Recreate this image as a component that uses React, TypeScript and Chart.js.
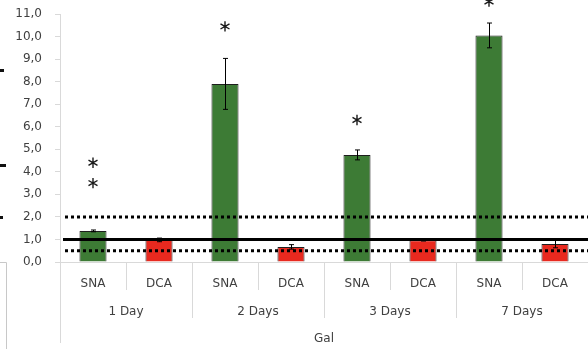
import { useEffect, useRef } from 'react';
import { Chart, registerables } from 'chart.js';

Chart.register(...registerables);

// ---- data ----
const categories = ['SNA', 'DCA', 'SNA', 'DCA', 'SNA', 'DCA', 'SNA', 'DCA'];
const groups = ['1 Day', '2 Days', '3 Days', '7 Days'];
const values = [1.38, 0.98, 7.9, 0.67, 4.75, 0.96, 10.05, 0.8];
const errors = [0.04, 0.08, 1.13, 0.1, 0.22, 0.03, 0.55, 0.17];
const barColors = ['#3d7b35', '#e8291f', '#3d7b35', '#e8291f', '#3d7b35', '#e8291f', '#3d7b35', '#e8291f'];
const yMin = 0;
const yMax = 11;
const yStep = 1;
const starIndex = [0, 0, 2, 4, 6];
const starValue = [4.4, 3.5, 10.45, 6.3, 11.55];
const solidLines = [1];
const dottedLines = [2, 0.5];
const axisTitle = 'Gal';

const GRAY = '#d9d9d9';
const TEXT = '#404040';

const overlayPlugin = {
  id: 'overlay',
  afterDatasetsDraw(chart: any) {
    const { ctx, chartArea, scales } = chart;
    const x = scales.x;
    const y = scales.y;
    ctx.save();
    // error bars
    ctx.strokeStyle = '#000';
    ctx.lineWidth = 1;
    ctx.setLineDash([]);
    values.forEach((v, i) => {
      const px = Math.round(x.getPixelForValue(i)) + 0.5;
      const t = y.getPixelForValue(v + errors[i]);
      const b = y.getPixelForValue(v - errors[i]);
      ctx.beginPath();
      ctx.moveTo(px, t);
      ctx.lineTo(px, b);
      ctx.moveTo(px - 2.5, t);
      ctx.lineTo(px + 2.5, t);
      ctx.moveTo(px - 2.5, b);
      ctx.lineTo(px + 2.5, b);
      ctx.stroke();
    });
    // reference lines
    ctx.strokeStyle = '#000';
    ctx.lineWidth = 3;
    solidLines.forEach((v) => {
      const py = y.getPixelForValue(v);
      ctx.setLineDash([]);
      ctx.beginPath();
      ctx.moveTo(chartArea.left + 3, py);
      ctx.lineTo(chartArea.right, py);
      ctx.stroke();
    });
    dottedLines.forEach((v) => {
      const py = y.getPixelForValue(v);
      ctx.setLineDash([3, 3]);
      ctx.beginPath();
      ctx.moveTo(chartArea.left + 5, py);
      ctx.lineTo(chartArea.right, py);
      ctx.stroke();
    });
    ctx.setLineDash([]);
    // asterisks
    ctx.strokeStyle = '#1a1a1a';
    ctx.lineWidth = 1.4;
    starIndex.forEach((idx, k) => {
      const px = x.getPixelForValue(idx);
      const py = y.getPixelForValue(starValue[k]);
      const r = 5.2;
      const dx = r * Math.cos(Math.PI / 6);
      const dy = r * Math.sin(Math.PI / 6);
      ctx.beginPath();
      ctx.moveTo(px, py - r);
      ctx.lineTo(px, py + r);
      ctx.moveTo(px - dx, py - dy);
      ctx.lineTo(px + dx, py + dy);
      ctx.moveTo(px - dx, py + dy);
      ctx.lineTo(px + dx, py - dy);
      ctx.stroke();
    });
    ctx.restore();
  },
  afterDraw(chart: any) {
    const { ctx, chartArea, scales } = chart;
    const x = scales.x;
    const x2 = scales.x2;
    ctx.save();
    ctx.strokeStyle = GRAY;
    ctx.lineWidth = 1;
    const n = categories.length;
    const w = (x.right - x.left) / n;
    for (let i = 0; i < n; i++) {
      const px = Math.round(x.left + i * w) + 0.5;
      let end;
      if (i === 0) end = x2.bottom - 6;
      else if (i % 2 === 1) end = x.bottom;
      else end = x2.top + 28;
      ctx.beginPath();
      ctx.moveTo(px, chartArea.bottom);
      ctx.lineTo(px, end);
      ctx.stroke();
    }
    // fragments of neighbouring panel at the left edge
    ctx.fillStyle = '#111';
    ctx.fillRect(0, 69, 4, 3);
    ctx.fillRect(0, 164, 6, 3);
    ctx.fillRect(0, 216, 3, 3);
    ctx.strokeStyle = '#c8c8c8';
    ctx.beginPath();
    ctx.moveTo(0, 262.5);
    ctx.lineTo(6.5, 262.5);
    ctx.lineTo(6.5, 349);
    ctx.stroke();
    ctx.restore();
  },
};

export default function App() {
  const ref = useRef<HTMLCanvasElement>(null);
  useEffect(() => {
    if (!ref.current) return;
    Chart.defaults.font.family = "'DejaVu Sans', sans-serif";
    Chart.defaults.font.size = 12;
    Chart.defaults.color = TEXT;
    const chart = new Chart(ref.current, {
      type: 'bar',
      data: {
        labels: categories,
        datasets: [
          {
            data: values,
            backgroundColor: barColors,
            borderColor: '#1e1e1e',
            borderWidth: 1,
            barPercentage: 0.41,
            categoryPercentage: 1,
          },
        ],
      },
      options: {
        animation: false,
        responsive: false,
        devicePixelRatio: 1,
        layout: { padding: { top: 14, left: 0, right: 0, bottom: 0 } },
        plugins: { legend: { display: false }, tooltip: { enabled: false } },
        scales: {
          x: {
            type: 'category',
            position: 'bottom',
            weight: 0,
            offset: true,
            grid: { display: false, drawTicks: false },
            border: { display: true, color: GRAY, width: 1 },
            ticks: { padding: 15, color: TEXT, font: { size: 12 } },
            afterFit: (s: any) => {
              s.height = 28;
              s.paddingLeft = 0;
              s.paddingRight = 0;
            },
          },
          x2: {
            type: 'category',
            position: 'bottom',
            weight: 1,
            labels: groups,
            offset: true,
            grid: { display: false, drawTicks: false },
            border: { display: false },
            ticks: { padding: 15, color: TEXT, font: { size: 12 } },
            title: { display: true, text: axisTitle, color: TEXT, font: { size: 12 }, padding: { top: 0, bottom: 3 } },
            afterFit: (s: any) => {
              s.height = 59;
              s.paddingLeft = 0;
              s.paddingRight = 0;
            },
          },
          y: {
            type: 'linear',
            min: yMin,
            max: yMax,
            ticks: {
              stepSize: yStep,
              padding: 13,
              color: TEXT,
              font: { size: 12 },
              callback: (v: any) => Number(v).toFixed(1).replace('.', ','),
            },
            grid: { display: true, drawOnChartArea: false, drawTicks: true, tickLength: 5, color: GRAY },
            border: { display: true, color: GRAY, width: 1 },
            afterFit: (s: any) => {
              s.width = 60;
              s.paddingTop = 0;
              s.paddingBottom = 0;
            },
          },
        },
      },
      plugins: [overlayPlugin],
    });
    return () => chart.destroy();
  }, []);
  return (
    <div style={{ position: 'absolute', left: 0, top: 0, width: 588, height: 349, background: '#fff' }}>
      <canvas ref={ref} width={588} height={349} style={{ display: 'block' }} />
    </div>
  );
}
